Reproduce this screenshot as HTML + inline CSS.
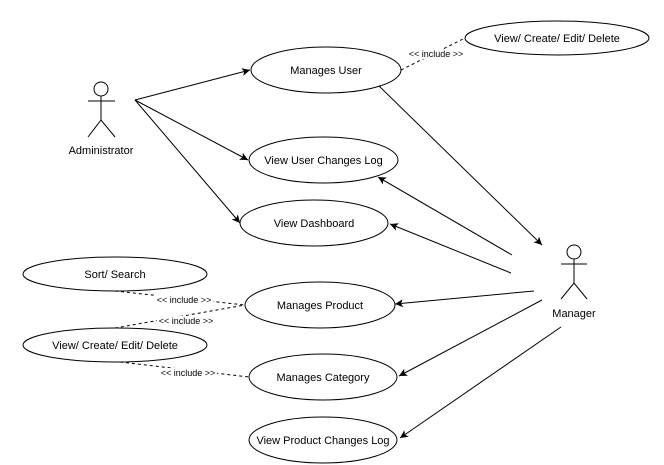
<!DOCTYPE html>
<html><head><style>html,body{margin:0;padding:0;background:#fff}svg{display:block}</style></head>
<body>
<svg width="664" height="465" viewBox="0 0 664 465" xmlns="http://www.w3.org/2000/svg" font-family="Liberation Sans, sans-serif" font-size="11" fill="none" stroke="#000">
<defs><marker id="a" markerWidth="10" markerHeight="10" refX="8" refY="4" orient="auto" markerUnits="userSpaceOnUse"><path d="M0,0 L8,4 L0,8 L2,4 Z" fill="#000" stroke="none"/></marker></defs>
<g stroke-width="1">
<ellipse cx="326" cy="70" rx="75" ry="23"/>
<ellipse cx="323.5" cy="160" rx="74.5" ry="23"/>
<ellipse cx="314" cy="223" rx="74" ry="23"/>
<ellipse cx="320" cy="305" rx="75" ry="23"/>
<ellipse cx="323" cy="377" rx="74" ry="23"/>
<ellipse cx="323" cy="440" rx="74" ry="23"/>
<ellipse cx="557" cy="38" rx="92" ry="17"/>
<ellipse cx="115" cy="274" rx="92" ry="17"/>
<ellipse cx="115" cy="345" rx="92" ry="17"/>
<circle cx="101" cy="89" r="7"/><path d="M101 96V120M88 101H115M88 137L101 120L115 137"/>
<circle cx="574" cy="252" r="7"/><path d="M574 259V283M561 264H587M561 299L574 283L587 299"/>
<g marker-end="url(#a)">
<line x1="135" y1="100" x2="250" y2="70"/>
<line x1="135" y1="100" x2="248" y2="160"/>
<line x1="135" y1="100" x2="240" y2="223"/>
<line x1="379" y1="86" x2="542" y2="245"/>
<line x1="512" y1="255" x2="378" y2="177"/>
<line x1="511" y1="273" x2="390" y2="224"/>
<line x1="534" y1="291" x2="395" y2="304"/>
<line x1="542" y1="300" x2="399" y2="376"/>
<line x1="561" y1="327" x2="400" y2="438"/>
</g>
<g stroke-dasharray="3,3">
<line x1="401" y1="70" x2="465" y2="38"/>
<line x1="115" y1="291" x2="245" y2="305"/>
<line x1="115" y1="328" x2="245" y2="305"/>
<line x1="120" y1="362" x2="249" y2="377"/>
</g>
</g>
<g fill="#000" stroke="none" text-anchor="middle">
<text x="326" y="74">Manages User</text>
<text x="323.5" y="164">View User Changes Log</text>
<text x="314" y="227">View Dashboard</text>
<text x="320" y="309">Manages Product</text>
<text x="323" y="381">Manages Category</text>
<text x="323" y="444">View Product Changes Log</text>
<text x="557" y="42">View/ Create/ Edit/ Delete</text>
<text x="115" y="278">Sort/ Search</text>
<text x="115" y="349">View/ Create/ Edit/ Delete</text>
<text x="101" y="154">Administrator</text>
<text x="574" y="317">Manager</text>
<g font-size="9">
<rect x="408" y="49" width="56" height="10" fill="#fff"/>
<text x="436" y="57">&lt;&lt; include &gt;&gt;</text>
<rect x="155" y="295" width="58" height="10" fill="#fff"/>
<text x="184" y="303">&lt;&lt; include &gt;&gt;</text>
<rect x="157" y="316" width="58" height="10" fill="#fff"/>
<text x="186" y="324">&lt;&lt; include &gt;&gt;</text>
<rect x="159" y="368" width="58" height="10" fill="#fff"/>
<text x="188" y="376">&lt;&lt; include &gt;&gt;</text>
</g>
</g>
</svg>
</body></html>
